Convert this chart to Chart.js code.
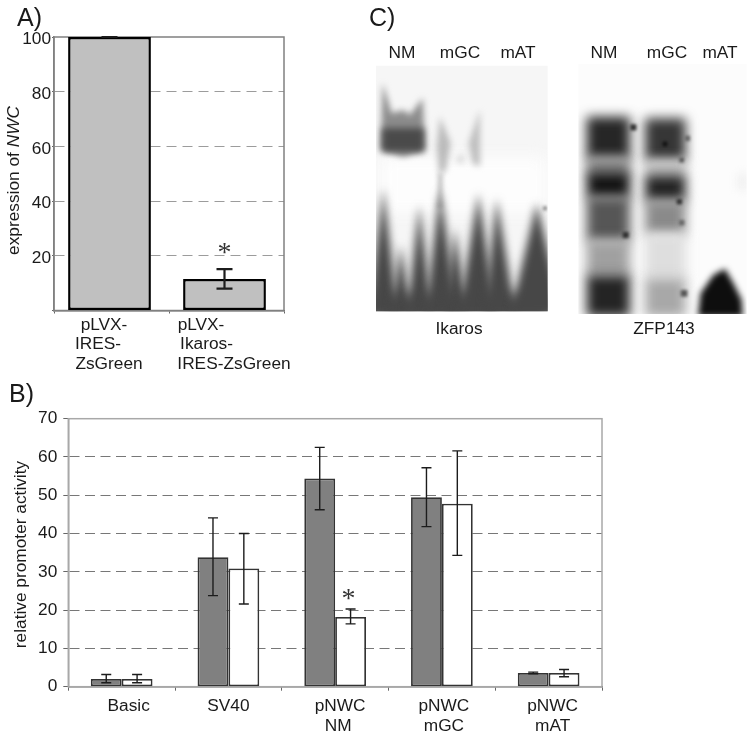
<!DOCTYPE html>
<html>
<head>
<meta charset="utf-8">
<title>NWC promoter</title>
<script src="https://cdn.jsdelivr.net/npm/chart.js@4"></script>
<style>
    html, body { margin: 0; padding: 0; background: #fff; }
    #page { position: relative; width: 752px; height: 736px; overflow: hidden; font-family: "Liberation Sans", sans-serif; color: #1a1a1a; }
    canvas { position: absolute; display: block; }
    .panel { position: absolute; font-size: 25px; line-height: 28px; }
    .lab { position: absolute; font-size: 17.3px; line-height: 20px; width: 80px; margin-left: -40px; text-align: center; }
</style>
</head>
<body>
<div id="page">
    <canvas id="chart-a" width="340" height="375" style="left:0;top:0"></canvas>
    <canvas id="chart-b" width="752" height="361" style="left:0;top:375px"></canvas>
    <canvas id="gels" width="392" height="320" style="left:360px;top:0"></canvas>

    <div class="panel" style="left:17px;top:3px">A)</div>
    <div class="panel" style="left:9px;top:379px">B)</div>
    <div class="panel" style="left:369px;top:3px">C)</div>

    <div class="lab" style="left:402px;top:42px">NM</div>
    <div class="lab" style="left:460px;top:42px">mGC</div>
    <div class="lab" style="left:518px;top:42px">mAT</div>
    <div class="lab" style="left:604px;top:42px">NM</div>
    <div class="lab" style="left:667px;top:42px">mGC</div>
    <div class="lab" style="left:720px;top:42px">mAT</div>
    <div class="lab" style="left:459px;top:318px">Ikaros</div>
    <div class="lab" style="left:664px;top:318px">ZFP143</div>
</div>

<script>
    // panel A
    const labelsA = [['pLVX-', 'IRES-', 'ZsGreen'], ['pLVX-', 'Ikaros-', 'IRES-ZsGreen']];
    const expression = [100, 11.5];
    const expressionLow = [100, 8];
    const expressionHigh = [100, 15.1];

    // panel B
    const labelsB = [['Basic'], ['SV40'], ['pNWC', 'NM'], ['pNWC', 'mGC'], ['pNWC', 'mAT']];
    const activityDark = [2, 33.8, 54.4, 49.5, 3.6];
    const darkLow = [1.05, 23.8, 46.2, 41.8, 3.4];
    const darkHigh = [3.2, 44.1, 62.5, 57.2, 3.8];
    const activityWhite = [2, 30.9, 18.2, 47.8, 3.6];
    const whiteLow = [1.05, 21.6, 16.4, 34.3, 2.6];
    const whiteHigh = [3.2, 40, 20.3, 61.6, 4.5];

    const FONT = '"Liberation Sans", sans-serif';
    const TEXT_SIZE = '17.3px ';
    Chart.defaults.font.family = FONT;
    Chart.defaults.font.size = 17.3;
    Chart.defaults.color = '#1a1a1a';

    // frame, mixed-style y title, hand placed x labels, error bars
    const figurePlugin = {
        id: 'figure',
        beforeDatasetsDraw(chart, args, o) {
            const a = chart.chartArea, ctx = chart.ctx;
            ctx.save();
            ctx.strokeStyle = o.frameColor;
            ctx.lineWidth = 1.5;
            ctx.strokeRect(a.left, a.top, a.width, a.height);
            ctx.restore();
            ctx.save();
            ctx.translate(o.barShift, 0);
        },
        afterDatasetsDraw(chart, args, o) {
            const ctx = chart.ctx, y = chart.scales.y;
            ctx.strokeStyle = '#1c1c1c';
            ctx.lineWidth = o.errWidth;
            o.errors.forEach((err, d) => {
                chart.getDatasetMeta(d).data.forEach((bar, i) => {
                    const lo = y.getPixelForValue(err.low[i]), hi = y.getPixelForValue(err.high[i]);
                    ctx.beginPath();
                    ctx.moveTo(bar.x, lo); ctx.lineTo(bar.x, hi);
                    ctx.moveTo(bar.x - o.cap, lo); ctx.lineTo(bar.x + o.cap, lo);
                    ctx.moveTo(bar.x - o.cap, hi); ctx.lineTo(bar.x + o.cap, hi);
                    ctx.stroke();
                });
            });
            // significance star
            const s = o.star;
            const bar = chart.getDatasetMeta(s.dataset).data[s.index];
            ctx.fillStyle = '#333';
            ctx.font = '28px "Liberation Serif"';
            ctx.textAlign = 'center';
            ctx.textBaseline = 'middle';
            ctx.fillText('*', bar.x + s.dx, y.getPixelForValue(o.errors[s.dataset].high[s.index]) - s.dy);
            ctx.restore();
        },
        afterDraw(chart, args, o) {
            const ctx = chart.ctx, x = chart.scales.x;
            ctx.save();
            ctx.fillStyle = '#1a1a1a';
            ctx.font = TEXT_SIZE + FONT;
            ctx.textAlign = 'center';
            ctx.textBaseline = 'middle';
            chart.data.labels.forEach((lines, i) => {
                lines.forEach((line, j) => {
                    ctx.fillText(line, x.getPixelForTick(i) + o.shifts[i][j], o.labelY + j * o.labelStep);
                });
            });
            // y title, part by part because of the italic gene name
            ctx.translate(o.titleX, o.titleY);
            ctx.rotate(-Math.PI / 2);
            ctx.textAlign = 'left';
            const width = o.title.reduce((w, p) => {
                ctx.font = (p[1] ? 'italic ' : '') + TEXT_SIZE + FONT;
                return w + ctx.measureText(p[0]).width;
            }, 0);
            let pos = -width / 2;
            o.title.forEach(p => {
                ctx.font = (p[1] ? 'italic ' : '') + TEXT_SIZE + FONT;
                ctx.fillText(p[0], pos, 0);
                pos += ctx.measureText(p[0]).width;
            });
            ctx.restore();
        }
    };

    function axes(opts) {
        return {
            x: {
                offset: true,
                grid: { display: true, drawOnChartArea: false, tickLength: opts.tickX, tickColor: opts.axisColor, offset: true },
                border: { color: opts.axisColor, width: 1.5 },
                ticks: { display: false },
                afterFit(s) { s.height = opts.bottom; }
            },
            y: {
                min: 0,
                max: opts.max,
                afterFit(s) { s.width = opts.left; },
                grid: {
                    color: c => (c.tick.value === 0 || c.tick.value === opts.max) ? 'transparent' : opts.gridColor,
                    lineWidth: 1,
                    tickLength: opts.tickY,
                    tickColor: opts.axisColor,
                    tickBorderDash: []
                },
                border: { color: opts.frameColor, width: 1.5, dash: opts.dash },
                ticks: { stepSize: opts.step, padding: opts.pad, labelOffset: opts.labelOffset, callback: opts.tickText }
            }
        };
    }

    new Chart(document.getElementById('chart-a'), {
        type: 'bar',
        data: {
            labels: labelsA,
            datasets: [{
                data: expression,
                backgroundColor: '#c0c0c0',
                borderColor: '#000',
                borderWidth: 2.5,
                borderSkipped: false,
                categoryPercentage: 0.72,
                barPercentage: 1
            }]
        },
        options: {
            responsive: false,
            animation: false,
            devicePixelRatio: 1,
            layout: { padding: { top: 37, right: 56, left: 0, bottom: 0 } },
            scales: axes({
                max: 100, step: 20, left: 54, bottom: 64.5, tickX: 3, tickY: 2, pad: 1, labelOffset: 2.5,
                axisColor: '#666', frameColor: '#808080', gridColor: '#9c9c9c', dash: [10, 6],
                tickText: v => v === 0 ? '' : v
            }),
            plugins: {
                legend: { display: false },
                tooltip: { enabled: false },
                figure: {
                    frameColor: '#808080', barShift: -2, errWidth: 2.2, cap: 8,
                    errors: [{ low: expressionLow, high: expressionHigh }],
                    star: { dataset: 0, index: 1, dx: 0, dy: 16 },
                    shifts: [[-7.5, -13.5, -2.5], [-25.5, -20, 7.5]],
                    labelY: 325, labelStep: 19.5,
                    titleX: 14, titleY: 180.5,
                    title: [['expression of ', false], ['NWC', true]]
                }
            }
        },
        plugins: [figurePlugin]
    });

    new Chart(document.getElementById('chart-b'), {
        type: 'bar',
        data: {
            labels: labelsB,
            datasets: [
                {
                    data: activityDark,
                    backgroundColor: '#808080',
                    borderColor: '#333',
                    borderWidth: 1.8,
                    borderSkipped: false,
                    categoryPercentage: 0.578,
                    barPercentage: 1
                },
                {
                    data: activityWhite,
                    backgroundColor: '#fff',
                    borderColor: '#333',
                    borderWidth: 1.8,
                    borderSkipped: false,
                    categoryPercentage: 0.578,
                    barPercentage: 1
                }
            ]
        },
        options: {
            responsive: false,
            animation: false,
            devicePixelRatio: 1,
            layout: { padding: { top: 43.7, right: 150, left: 0, bottom: 0 } },
            scales: axes({
                max: 70, step: 10, left: 68.3, bottom: 49.3, tickX: 4, tickY: 5, pad: 6, labelOffset: 0,
                axisColor: '#666', frameColor: '#a0a0a0', gridColor: '#777', dash: [10, 5.5],
                tickText: v => v
            }),
            plugins: {
                legend: { display: false },
                tooltip: { enabled: false },
                figure: {
                    frameColor: '#a8a8a8', barShift: 0, errWidth: 1.4, cap: 5,
                    errors: [{ low: darkLow, high: darkHigh }, { low: whiteLow, high: whiteHigh }],
                    star: { dataset: 1, index: 2, dx: -2, dy: 9 },
                    shifts: [[7], [0], [5, 3], [2, 2], [4, 4]],
                    labelY: 331, labelStep: 20,
                    titleX: 21, titleY: 179.5,
                    title: [['relative promoter activity', false]]
                }
            }
        },
        plugins: [figurePlugin]
    });

    // gel photographs, painted roughly with blurred shapes
    const gel = document.getElementById('gels').getContext('2d');

    function blob(pts, color, blur) {
        gel.filter = 'blur(' + blur + 'px)';
        gel.fillStyle = color;
        gel.beginPath();
        pts.forEach((p, i) => i ? gel.lineTo(p[0] / 3, p[1] / 3) : gel.moveTo(p[0] / 3, p[1] / 3));
        gel.closePath();
        gel.fill();
        gel.filter = 'none';
    }
    function box(x1, y1, x2, y2, color, blur) {
        blob([[x1, y1], [x2, y1], [x2, y2], [x1, y2]], color, blur);
    }
    function spot(x, y, r, color) {
        box(x - r, y - r, x + r, y + r, color, 1.5);
    }

    // Ikaros
    gel.save();
    gel.beginPath();
    gel.rect(48 / 3, 197 / 3, 515 / 3, 737 / 3);
    gel.clip();
    gel.fillStyle = '#f6f6f6';
    gel.fillRect(0, 0, 392, 320);
    box(60, 470, 560, 640, '#fdfdfd', 8);
    // NM band
    blob([[68, 250], [95, 340], [130, 330], [150, 345], [188, 295], [195, 450], [130, 470], [62, 450]], '#8c8c8c', 3);
    box(66, 385, 192, 455, '#4a4a4a', 3.5);
    // faint mGC traces
    blob([[240, 350], [272, 430], [258, 510], [238, 525], [230, 440]], '#bababa', 3);
    blob([[360, 330], [360, 498], [338, 492], [326, 430]], '#bebebe', 3);
    blob([[282, 482], [312, 458], [312, 492]], '#d6d6d6', 3);
    blob([[234, 520], [248, 520], [250, 625], [230, 625]], '#c6c6c6', 2);
    // wash at the foot of the gel
    box(40, 885, 570, 960, '#4a4a4a', 7);
    // peaks
    [[70, 565, 25, 115], [122, 735, 92, 155], [178, 615, 140, 218], [240, 570, 195, 295],
     [285, 685, 252, 322], [355, 580, 295, 410], [410, 595, 372, 468], [530, 610, 450, 610]].forEach(p => {
        blob([[p[0], p[1]], [p[3], 945], [p[2], 945]], '#474747', 4);
    });
    spot(555, 625, 6, '#888');
    gel.restore();

    // ZFP143
    gel.save();
    gel.beginPath();
    gel.rect(655 / 3, 192 / 3, 505 / 3, 750 / 3);
    gel.clip();
    gel.fillStyle = '#fcfcfc';
    gel.fillRect(0, 0, 392, 320);
    const laneNM = [[350, 480, '#262626'], [470, 530, '#8a8a8a'], [515, 595, '#141414'], [590, 725, '#565656'],
                    [720, 830, '#a0a0a0'], [825, 950, '#242424']];
    const laneGC = [[355, 485, '#363636'], [480, 535, '#c0c0c0'], [525, 605, '#242424'], [600, 705, '#8a8a8a'],
                    [700, 840, '#dedede'], [835, 950, '#a8a8a8']];
    laneNM.forEach(b => box(680, b[0], 810, b[1], b[2], 6));
    laneGC.forEach(b => box(855, b[0], 977, b[1], b[2], 6));
    // specks along the lanes
    spot(820, 382, 9, '#303030');
    spot(797, 705, 9, '#303030');
    spot(915, 432, 7, '#111');
    spot(982, 415, 8, '#666');
    spot(965, 480, 7, '#555');
    spot(958, 605, 8, '#333');
    spot(965, 668, 8, '#666');
    spot(972, 880, 10, '#555');
    box(1135, 520, 1160, 570, '#eeeeee', 4);
    // mAT spot
    blob([[1015, 942], [1022, 880], [1060, 825], [1095, 806], [1120, 850], [1145, 900], [1148, 950], [1015, 950]], '#0e0e0e', 3);
    gel.restore();
</script>
</body>
</html>
